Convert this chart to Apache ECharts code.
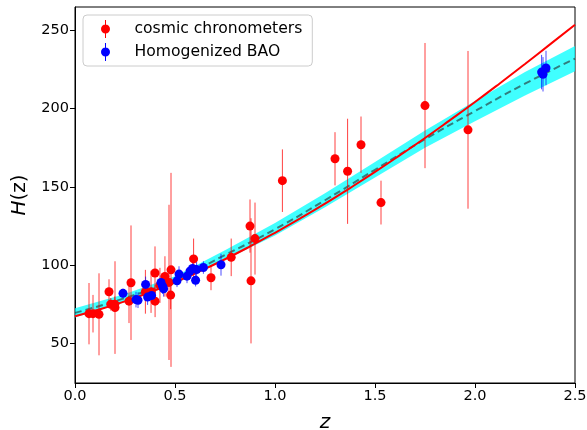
<!DOCTYPE html>
<html><head><meta charset="utf-8">
<script src="https://cdn.jsdelivr.net/npm/echarts@6/dist/echarts.min.js"></script>
<style>html,body{margin:0;padding:0;background:#fff}#c{width:587px;height:430px}</style>
</head><body><div id="c"></div>
<script>
// Cosmic chronometers
const ccZ = [0.07,0.09,0.12,0.17,0.179,0.199,0.2,0.27,0.28,0.352,0.3802,0.4,0.4004,0.4247,0.4497,0.47,0.4783,0.48,0.593,0.68,0.781,0.875,0.88,0.9,1.037,1.3,1.363,1.43,1.53,1.75,1.965];
const ccH = [69,69,68.6,83,75,75,72.9,77,88.8,83,83,95,77,87.1,92.8,89,80.9,97,104,92,105,125,90,117,154,168,160,177,140,202,186.5];
const ccErr = [19.6,12,26.2,8,4,5,29.6,14,36.6,14,13.5,17,10.2,11.2,12.9,49.6,9,62,13,8,12,17,40,23,20,17,33.6,18,14,40,50.4];
// Homogenized BAO
const baoZ = [0.24,0.305,0.315,0.353,0.363,0.383,0.43,0.438,0.443,0.51,0.52,0.56,0.575,0.588,0.603,0.608,0.642,0.73,2.333,2.34,2.355];
const baoH = [82,78,77.6,87.7,79.6,80.6,89,86.6,84.9,90,94.3,93,96.2,97.9,90.4,97.2,98.5,100.3,223.4,222,226];
const baoErr = [3,5,5,5,5,5,4.5,5,5,4,5,4.5,4,4,4,5,4,7,11,11,11];
// Reconstruction (dashed) and band
const bandZ = [0,0.25,0.5,0.75,1,1.25,1.5,1.75,2,2.25,2.5];
const bandMid = [69.5,79,90.5,106.5,123,141.5,161,180.5,198.5,216,232];
const bandHalf = [3,2.5,2.5,3,4,4.5,5,5.5,6.5,7.5,8];
// Model curve (red)
const modelZ = [0,0.125,0.25,0.375,0.5,0.625,0.75,0.875,1,1.125,1.25,1.375,1.5,1.625,1.75,1.875,2,2.125,2.25,2.375,2.5];
const modelH = [67.4,71.8,76.9,82.7,89.1,96.2,103.8,112.0,120.7,129.8,139.3,149.3,159.6,170.3,181.3,192.7,204.3,216.3,228.6,241.1,253.7];
const yTicks = [50,100,150,200,250];

const font = 'DejaVu Sans';
const chart = echarts.init(document.getElementById('c'), null, {renderer:'canvas'});

function errSeries(zs, hs, es, color) {
  return {
    type:'custom', silent:true, clip:true, z:4,
    data: zs.map((z,i)=>[z, hs[i]-es[i], hs[i]+es[i]]),
    encode:{x:0, y:[1,2]},
    renderItem:(params, api)=>{
      const a = api.coord([api.value(0), api.value(1)]);
      const b = api.coord([api.value(0), api.value(2)]);
      return {type:'line', shape:{x1:a[0],y1:a[1],x2:b[0],y2:b[1]}, style:{stroke:color, lineWidth:1}};
    }
  };
}

const icon = 'path://M9.5,0h1v18h-1z M14.5,9a4.5,4.5 0 1,1 -9,0a4.5,4.5 0 1,1 9,0z';

chart.setOption({
  animation:false,
  backgroundColor:'#fff',
  grid:{left:75, right:12, top:7, bottom:47, outerBoundsMode:'none', containLabel:false, show:true, borderColor:'#000', borderWidth:1, backgroundColor:'#fff'},
  legend:{
    left:83, top:15, orient:'vertical', padding:[5,10,5,18], itemGap:5, itemWidth:20, itemHeight:18,
    backgroundColor:'rgba(255,255,255,0.8)', borderColor:'#cccccc', borderWidth:1, borderRadius:4,
    textStyle:{fontFamily:font, fontSize:15.6, color:'#000', padding:[0,0,0,14]},
    data:[{name:'cosmic chronometers', icon:icon},{name:'Homogenized BAO', icon:icon}]
  },
  xAxis:{
    type:'value', min:0, max:2.5, interval:0.5,
    axisLine:{show:true, onZero:false, lineStyle:{color:'#000', width:1}},
    axisTick:{show:true, length:5, lineStyle:{color:'#000'}},
    axisLabel:{color:'#000', fontSize:14.5, fontFamily:font, margin:6, formatter:v=>v.toFixed(1)},
    splitLine:{show:false},
    name:'z', nameLocation:'middle', nameGap:30,
    nameTextStyle:{fontSize:20, fontStyle:'italic', fontFamily:font, color:'#000'}
  },
  yAxis:{
    type:'value', min:24.7, max:265,
    axisLine:{show:true, onZero:false, lineStyle:{color:'#000', width:1}},
    axisTick:{show:true, length:5, lineStyle:{color:'#000'}, customValues:yTicks},
    axisLabel:{color:'#000', fontSize:14.5, fontFamily:font, margin:6, customValues:yTicks},
    splitLine:{show:false},
    name:'{i|H}(z)', nameLocation:'middle', nameGap:45,
    nameTextStyle:{fontSize:20, fontFamily:font, color:'#000', rich:{i:{fontSize:20, fontStyle:'italic', fontFamily:font, color:'#000'}}}
  },
  series:[
    {
      type:'custom', silent:true, clip:true, z:1,
      data: bandZ.map((z,i)=>[z, bandMid[i]-bandHalf[i], bandMid[i]+bandHalf[i]]),
      encode:{x:0, y:[1,2]},
      renderItem:(params, api)=>{
        if (params.dataIndex !== 0) return null;
        const pts = [];
        for (let i=0;i<bandZ.length;i++) pts.push(api.coord([bandZ[i], bandMid[i]-bandHalf[i]]));
        for (let i=bandZ.length-1;i>=0;i--) pts.push(api.coord([bandZ[i], bandMid[i]+bandHalf[i]]));
        return {type:'polygon', shape:{points:pts}, style:{fill:'rgba(0,255,255,0.75)'}};
      }
    },
    {
      type:'line', z:2, silent:true, showSymbol:false, smooth:true,
      data: bandZ.map((z,i)=>[z, bandMid[i]]),
      lineStyle:{color:'rgba(40,40,40,0.6)', width:2, type:[7,4]}
    },
    {
      type:'line', z:3, silent:true, showSymbol:false, smooth:true,
      data: modelZ.map((z,i)=>[z, modelH[i]]),
      lineStyle:{color:'#ff0000', width:2}
    },
    errSeries(ccZ, ccH, ccErr, 'rgba(255,0,0,0.75)'),
    {
      name:'cosmic chronometers', type:'scatter', z:5, symbol:'circle', symbolSize:9,
      data: ccZ.map((z,i)=>[z, ccH[i]]),
      itemStyle:{color:'#ff0000', opacity:1}
    },
    errSeries(baoZ, baoH, baoErr, 'rgba(0,0,255,0.7)'),
    {
      name:'Homogenized BAO', type:'scatter', z:6, symbol:'circle', symbolSize:9,
      data: baoZ.map((z,i)=>[z, baoH[i]]),
      itemStyle:{color:'#0000ff', opacity:1}
    }
  ]
});
</script></body></html>
